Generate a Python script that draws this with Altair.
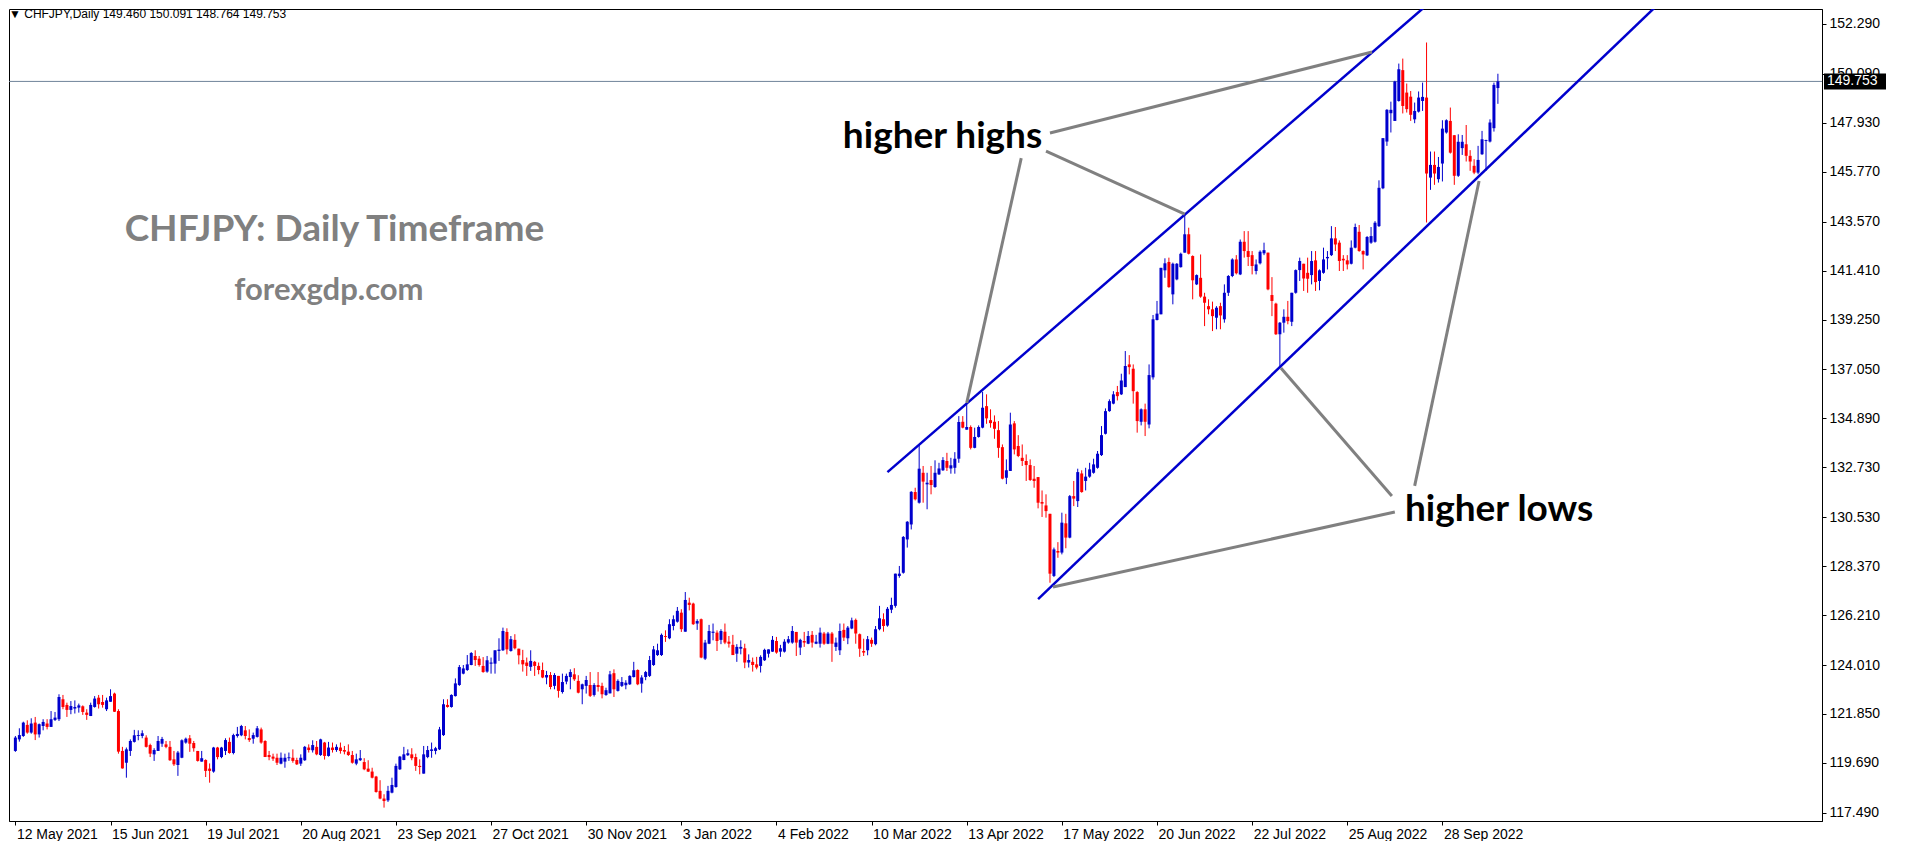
import altair as alt
import pandas as pd

# ---------------- data (daily candles, bar index 0..374) ----------------
OPEN = [
120.22,120.73,120.88,121.37,121.03,121.47,120.95,121.32,121.43,121.28,
121.59,121.62,122.50,122.25,122.03,122.09,122.13,122.19,121.91,121.76,
122.16,122.57,122.38,122.06,122.39,122.75,121.98,120.22,119.70,120.22,
120.62,120.88,120.88,120.81,120.48,120.07,120.22,120.54,120.51,120.40,
119.85,119.60,119.92,120.59,120.78,120.57,120.22,119.75,119.82,119.44,
119.31,120.37,119.95,120.22,120.62,120.13,120.88,120.91,121.13,120.79,
120.76,120.84,121.17,120.66,120.04,119.97,119.92,119.66,119.75,119.90,
119.92,119.82,119.66,119.81,120.37,120.25,120.40,120.04,120.59,120.00,
120.37,120.26,120.37,120.26,120.19,120.04,119.66,119.81,119.73,119.44,
119.31,119.09,118.46,118.12,118.04,118.38,118.63,119.41,119.82,120.03,
120.07,119.95,119.56,119.22,119.95,120.22,120.22,120.29,120.92,122.25,
122.16,122.64,123.13,123.63,123.79,124.01,124.41,124.29,123.97,123.72,
124.07,124.07,124.63,124.66,125.47,124.63,125.12,124.73,124.23,124.12,
123.93,124.15,123.97,123.79,123.46,123.57,123.09,123.53,122.82,123.28,
123.48,123.60,123.31,122.94,123.09,123.13,122.69,123.13,123.09,122.69,
122.76,123.65,122.87,123.09,123.12,123.16,123.48,123.79,123.19,123.48,
123.53,124.01,124.45,124.45,125.29,125.19,125.73,125.92,126.32,125.48,
126.76,126.72,125.84,126.03,124.29,124.95,125.43,125.44,125.12,125.48,
125.04,124.90,124.51,124.73,124.75,124.12,124.15,124.04,123.97,124.22,
124.51,124.60,125.07,124.60,124.60,125.00,125.00,125.47,124.78,125.07,
124.95,125.34,124.95,124.95,125.40,124.95,125.40,124.81,124.66,125.56,
125.19,125.62,126.00,125.37,124.63,124.66,125.12,124.93,125.59,126.03,
125.75,126.45,126.62,127.94,128.08,129.55,130.21,131.64,131.17,132.49,
131.98,132.17,131.86,132.42,132.60,133.01,132.68,132.71,133.11,134.74,
134.39,134.51,133.59,134.07,134.48,135.43,134.81,134.74,134.37,133.62,
132.27,132.57,134.67,133.67,133.15,133.01,132.83,132.23,132.30,131.20,
131.05,130.68,127.94,129.04,128.97,130.26,129.63,131.46,131.24,132.46,
132.13,132.32,132.49,132.71,133.27,134.21,135.21,135.54,136.05,135.95,
136.27,137.27,137.08,136.05,134.74,135.29,134.62,136.70,139.23,139.48,
141.42,141.79,140.36,141.02,141.56,142.20,143.01,142.05,140.80,141.09,
140.26,139.84,139.70,139.33,139.84,139.26,140.43,141.17,141.90,141.24,
142.68,142.27,142.09,141.39,141.73,142.17,142.20,140.33,139.95,138.60,
139.11,139.37,139.15,140.43,141.43,141.71,141.31,141.21,141.86,140.95,
141.31,141.95,142.09,142.83,142.64,141.93,141.86,141.71,142.42,143.12,
142.27,142.08,142.64,142.68,143.37,145.04,147.10,148.35,148.01,148.89,
150.25,149.26,149.08,148.08,148.42,148.89,149.04,145.51,146.07,145.44,
146.13,147.50,148.01,147.38,145.59,146.81,146.98,146.47,146.03,145.73,
146.54,147.13,147.10,147.69,149.460]

HIGH = [
120.88,121.22,121.51,121.57,121.66,121.72,121.43,121.62,121.62,121.98,
121.94,122.72,122.69,122.35,122.42,122.45,122.31,122.23,122.06,122.35,
122.64,122.69,122.69,122.57,122.94,122.79,122.06,120.40,120.37,120.73,
121.15,121.13,121.13,120.91,120.54,120.34,120.88,120.84,120.66,120.66,
120.22,120.22,120.73,120.81,120.92,120.66,120.22,120.22,119.85,119.67,
120.40,120.40,120.40,120.78,120.81,120.98,121.28,121.37,121.32,121.17,
121.03,121.32,121.25,120.69,120.22,120.10,120.10,120.15,120.10,120.15,
120.29,119.92,120.07,120.44,120.51,120.69,120.66,120.76,120.62,120.62,
120.59,120.51,120.59,120.44,120.51,120.22,120.10,120.26,119.90,119.81,
119.48,119.12,118.93,118.31,118.68,119.04,119.66,120.00,120.40,120.29,
120.34,120.10,119.85,120.44,120.44,120.59,120.40,121.28,122.50,122.50,
122.72,123.42,124.01,124.01,124.45,124.58,124.66,124.41,124.36,124.41,
124.34,124.66,125.19,125.66,125.63,125.29,125.37,124.73,124.68,124.34,
124.66,124.19,124.12,124.12,123.75,123.70,123.65,123.53,123.63,123.63,
123.82,123.87,123.56,123.19,123.53,123.70,123.21,123.70,123.23,123.01,
123.75,123.82,123.38,123.48,123.34,123.56,124.15,123.82,123.56,123.75,
124.41,124.85,124.95,125.40,125.54,126.03,126.20,126.57,126.47,127.23,
126.98,126.76,126.03,126.06,125.12,125.78,125.84,125.54,125.59,125.84,
125.29,125.34,124.93,125.10,124.95,124.48,124.34,124.37,124.44,124.73,
124.70,125.29,125.25,124.90,125.15,125.29,125.73,125.47,125.17,125.47,
125.51,125.51,125.34,125.66,125.47,125.47,125.47,125.22,125.84,125.84,
125.73,126.10,126.06,125.40,125.17,125.29,125.22,125.73,126.62,126.29,
126.57,126.98,128.04,128.38,129.70,130.36,131.68,131.83,133.74,132.79,
132.49,132.79,133.04,132.93,133.18,133.37,133.15,133.40,134.99,134.99,
135.58,134.58,134.48,134.58,136.06,135.95,135.29,135.02,134.77,133.74,
133.08,135.14,134.77,134.15,133.74,133.30,133.08,132.79,132.30,131.71,
131.54,130.68,129.19,129.43,130.73,130.68,131.51,132.13,132.67,132.60,
132.71,132.93,133.11,133.45,134.55,135.33,135.73,136.09,136.32,136.86,
137.86,137.68,137.27,136.09,135.33,135.54,137.27,139.45,140.07,141.53,
141.95,141.98,141.76,141.74,142.20,143.89,143.30,142.08,141.24,142.12,
140.43,140.14,140.04,139.84,139.99,140.80,141.21,141.95,142.09,142.78,
143.15,143.15,142.27,141.90,142.30,142.64,142.20,141.12,139.99,139.14,
139.70,140.07,140.43,141.46,141.98,141.71,141.98,142.27,142.27,141.46,
142.42,142.27,143.37,143.33,142.74,142.09,142.09,142.74,143.48,143.42,
142.30,142.93,143.33,143.59,145.39,147.25,148.53,148.86,149.78,150.54,
150.76,149.66,149.33,148.82,149.31,149.70,151.47,146.66,146.66,146.42,
148.04,148.08,148.60,147.38,147.42,147.39,147.83,146.72,146.32,146.91,
147.57,147.18,148.08,149.70,150.091]

LOW = [
120.18,120.63,120.84,120.98,120.98,120.70,120.81,121.13,121.17,121.28,
121.54,121.54,122.06,121.72,121.84,121.87,121.91,121.81,121.59,121.76,
122.13,122.09,122.13,121.98,122.39,121.94,120.10,119.44,119.04,120.00,
120.59,120.69,120.78,120.37,119.95,119.78,120.22,120.40,120.34,119.78,
119.56,119.12,119.90,120.54,120.18,120.19,119.75,119.75,119.07,118.82,
119.26,119.85,119.90,120.04,120.10,120.07,120.81,120.87,120.73,120.62,
120.54,120.81,120.54,119.95,119.81,119.78,119.60,119.63,119.48,119.78,
119.70,119.60,119.56,119.78,120.15,120.15,120.03,120.00,119.84,119.97,
120.15,120.18,120.10,120.07,120.00,119.66,119.59,119.78,119.37,119.29,
119.01,118.38,118.09,117.72,117.97,118.35,118.60,119.38,119.81,120.00,
119.81,119.34,119.19,119.22,119.90,119.92,120.07,120.26,120.88,122.13,
122.13,122.62,123.09,123.60,123.75,124.00,123.97,123.94,123.67,123.67,
123.63,123.63,124.19,124.63,124.48,124.60,124.70,124.04,123.72,123.53,
123.75,123.53,123.60,123.43,123.16,122.94,122.94,122.57,122.75,123.16,
122.94,123.31,122.76,122.28,122.75,122.60,122.62,122.84,122.54,122.65,
122.76,122.60,122.84,123.04,122.94,123.13,123.46,123.12,122.79,123.34,
123.48,123.97,124.41,124.41,125.03,125.15,125.54,125.88,125.47,125.48,
126.42,125.78,125.56,124.31,124.23,124.93,125.10,124.63,124.93,124.93,
124.78,124.45,124.15,124.48,123.87,123.90,123.72,123.82,123.68,124.19,
124.34,124.59,124.51,124.37,124.56,124.95,124.95,124.41,124.45,124.81,
124.93,124.78,124.93,124.78,124.90,124.93,124.15,124.63,124.45,125.07,
124.93,125.59,124.95,124.37,124.41,124.44,124.81,124.88,125.54,125.48,
125.70,126.30,126.54,127.86,128.04,129.19,129.99,131.27,131.13,131.17,
130.88,131.54,131.83,132.39,132.57,132.57,132.45,132.45,132.93,134.45,
134.39,133.52,133.57,134.04,134.45,134.65,134.48,133.99,133.15,132.20,
131.99,132.57,133.30,133.18,132.79,132.13,132.13,131.83,130.92,130.54,
130.51,127.64,127.89,128.74,128.89,129.16,129.60,131.02,130.98,131.61,
131.71,132.27,132.45,132.67,133.23,134.18,135.18,135.51,135.68,135.92,
136.27,136.83,135.54,134.26,134.58,134.11,134.45,136.60,139.21,139.48,
141.09,140.65,139.92,140.98,141.54,142.20,142.12,140.14,140.77,140.21,
138.96,139.48,138.74,138.82,138.82,139.11,140.29,141.12,141.24,141.21,
141.98,141.61,141.24,141.24,141.68,142.09,140.54,139.40,138.57,137.20,
138.67,139.04,138.96,140.39,140.95,140.51,140.43,140.80,140.51,140.54,
141.27,141.46,142.05,142.27,141.39,141.39,141.46,141.68,142.39,142.24,
141.46,142.05,142.59,142.64,143.33,145.00,146.91,147.50,148.01,148.86,
148.34,148.38,148.01,147.91,148.38,148.45,143.53,144.97,145.19,145.29,
145.34,147.45,146.57,145.19,145.54,146.51,146.22,145.81,145.66,145.66,
146.51,145.81,147.06,147.54,148.764]

CLOSE = [
120.81,120.92,121.47,121.03,121.43,120.95,121.40,121.50,121.28,121.62,
121.69,122.60,122.16,122.03,122.20,122.16,122.23,121.94,121.81,122.25,
122.53,122.28,122.25,122.45,122.64,121.95,120.19,119.45,120.29,120.66,
120.91,120.92,121.00,120.40,120.10,120.26,120.66,120.75,120.40,119.81,
119.63,120.15,120.69,120.76,120.54,120.34,119.78,119.90,119.34,119.34,
120.37,119.95,120.37,120.70,120.13,120.92,120.97,121.32,120.88,120.70,
120.92,121.22,120.59,119.95,119.95,119.88,119.70,119.92,119.92,119.94,
119.78,119.63,119.92,120.40,120.26,120.48,120.07,120.73,120.00,120.37,
120.26,120.40,120.22,120.19,120.04,119.70,119.85,119.90,119.41,119.31,
119.04,118.41,118.12,118.01,118.46,118.72,119.56,119.97,120.07,120.12,
119.90,119.56,119.51,120.07,120.26,120.29,120.34,121.17,122.28,122.16,
122.69,123.20,123.92,123.86,124.04,124.54,124.23,124.01,123.70,124.22,
124.12,124.66,124.69,125.51,124.70,125.15,124.75,124.44,124.04,123.97,
124.19,123.97,123.79,123.46,123.57,123.04,123.57,122.87,123.26,123.53,
123.70,123.38,122.79,123.16,123.35,122.65,123.13,123.04,122.72,122.90,
123.60,122.94,123.31,123.26,123.23,123.53,123.78,123.16,123.46,123.70,
124.23,124.70,124.66,125.34,125.25,125.81,126.03,126.40,125.59,126.88,
126.66,125.81,125.95,124.34,125.00,125.51,125.48,125.07,125.51,125.00,
124.95,124.45,124.81,124.81,124.12,124.23,124.01,123.90,124.37,124.68,
124.70,125.12,124.56,124.75,125.04,125.15,125.51,125.00,125.12,125.00,
125.29,125.00,125.04,125.44,124.95,125.40,124.95,125.00,125.51,125.22,
125.66,125.98,125.40,124.73,124.56,125.15,124.95,125.59,126.07,125.73,
126.49,126.66,128.04,128.04,129.66,130.33,131.65,131.32,132.67,132.10,
132.05,131.95,132.49,132.68,133.05,132.71,132.82,133.11,134.73,134.48,
134.51,133.59,134.07,134.51,135.36,134.89,134.68,134.43,133.59,132.23,
132.60,134.62,133.52,133.23,133.01,132.83,132.17,132.13,131.17,131.13,
130.80,128.04,129.11,128.97,130.29,129.63,131.46,131.35,132.52,131.64,
132.32,132.64,132.86,133.33,134.15,135.21,135.65,135.95,135.87,136.56,
137.20,137.15,136.09,134.77,135.29,134.74,136.80,139.26,139.51,141.53,
141.73,140.68,141.71,141.71,142.15,143.01,142.15,140.98,141.21,140.26,
139.99,139.70,139.40,139.77,139.43,140.43,141.17,141.90,141.29,142.68,
142.27,142.01,141.61,141.68,142.24,142.31,140.58,140.07,138.60,139.11,
139.37,139.18,140.43,141.43,141.83,141.06,141.05,141.83,140.90,141.42,
141.90,142.01,142.83,142.56,141.83,141.86,141.68,142.42,143.33,142.27,
142.12,142.89,142.93,143.52,145.06,147.25,148.50,148.50,149.75,150.29,
148.67,148.53,148.28,148.45,149.04,149.07,145.69,146.07,145.69,145.98,
147.67,148.04,146.61,145.59,147.09,147.09,146.47,146.22,145.73,146.29,
147.20,147.17,147.94,149.60,149.753]

# date labels on the time axis (bar index -> label)
TICK_IDX = [0, 24, 48, 72, 96, 120, 144, 168, 192, 216, 240, 264, 288, 312, 336, 360]
TICK_LABELS = ["12 May 2021", "15 Jun 2021", "19 Jul 2021", "20 Aug 2021", "23 Sep 2021",
               "27 Oct 2021", "30 Nov 2021", "3 Jan 2022", "4 Feb 2022", "10 Mar 2022",
               "13 Apr 2022", "17 May 2022", "20 Jun 2022", "22 Jul 2022", "25 Aug 2022",
               "28 Sep 2022"]

# price scale labels
Y_TICKS = [152.29, 150.09, 147.93, 145.77, 143.57, 141.41, 139.25, 137.05, 134.89,
           132.73, 130.53, 128.37, 126.21, 124.01, 121.85, 119.69, 117.49]

# channel lines (bar index, price)
CH_LINE = ["upper", "upper", "lower", "lower"]
CH_IDX = [220.0, 356.65, 258.0, 414.75]
CH_PRICE = [132.52, 153.21, 126.92, 153.21]

# grey pointer lines
PT_X1 = [261.0, 260.0, 253.75, 319.25, 353.0, 348.0]
PT_Y1 = [147.48, 146.68, 146.37, 137.11, 131.91, 130.76]
PT_X2 = [342.25, 295.0, 240.0, 347.25, 369.25, 261.75]
PT_Y2 = [151.05, 143.90, 135.57, 131.47, 145.36, 127.45]

# annotation texts
ANN_TEXT = ["higher highs", "higher lows"]
ANN_IDX = [233.9, 374.3]
ANN_PRICE = [146.82, 130.36]

TITLE_TEXT = ["CHFJPY: Daily Timeframe"]
TITLE_IDX = [80.5]
TITLE_PRICE = [142.71]
SUB_TEXT = ["forexgdp.com"]
SUB_IDX = [79.1]
SUB_PRICE = [140.11]

HEADER = "\u25BC CHFJPY,Daily  149.460 150.091 148.764 149.753"
LAST_PRICE = 149.753

BLUE = "#0000CD"
RED = "#FF0000"
GREY = "#808080"
AXFONT = "Liberation Sans"

df = pd.DataFrame({"idx": list(range(len(CLOSE))), "open": OPEN, "high": HIGH,
                   "low": LOW, "close": CLOSE})

xscale = alt.Scale(domain=[-0.35, 454.5], nice=False, zero=False)
yscale = alt.Scale(domain=[117.13, 152.947], nice=False, zero=False)

label_expr = ("[" + ",".join("'%s'" % s for s in TICK_LABELS) + "][indexof(["
              + ",".join(str(v) for v in TICK_IDX) + "], datum.value)]")

xaxis = alt.Axis(values=TICK_IDX, labelExpr=label_expr, title=None, grid=False,
                 labelAlign="left", labelPadding=2, labelOffset=1, tickSize=4,
                 labelFont=AXFONT, labelFontSize=14, labelColor="black",
                 tickColor="black", domainColor="black", labelOverlap=False,
                 labelFlush=False)
yaxis = alt.Axis(orient="right", values=Y_TICKS, format=".3f", title=None, grid=False,
                 tickSize=4, labelPadding=3, labelFont=AXFONT, labelFontSize=14,
                 labelColor="black", tickColor="black", domainColor="black",
                 labelOverlap=False, labelFlush=False)

candle_color = alt.condition("datum.close >= datum.open", alt.value(BLUE), alt.value(RED))

base = alt.Chart(df)
wick = base.mark_rule(strokeWidth=1).encode(
    x=alt.X("idx:Q", scale=xscale, axis=xaxis),
    y=alt.Y("low:Q", scale=yscale, axis=yaxis),
    y2="high:Q",
    color=candle_color,
)
body = base.mark_bar(size=3).encode(
    x=alt.X("idx:Q", title=None),
    y=alt.Y("open:Q", title=None),
    y2="close:Q",
    color=candle_color,
)

ch_df = pd.DataFrame({"line": CH_LINE, "idx": CH_IDX, "price": CH_PRICE})
channels = alt.Chart(ch_df).mark_line(clip=True, strokeWidth=2.5, color=BLUE).encode(
    x=alt.X("idx:Q", title=None), y=alt.Y("price:Q", title=None), detail="line:N")

pt_df = pd.DataFrame({"x1": PT_X1, "y1": PT_Y1, "x2": PT_X2, "y2": PT_Y2})
pointers = alt.Chart(pt_df).mark_rule(strokeWidth=3, color=GREY).encode(
    x=alt.X("x1:Q", title=None), x2="x2:Q", y=alt.Y("y1:Q", title=None), y2="y2:Q")

ann_df = pd.DataFrame({"t": ANN_TEXT, "idx": ANN_IDX, "price": ANN_PRICE})
ann = alt.Chart(ann_df).mark_text(font="Lato", fontWeight="bold", fontSize=37,
                                  color="black", align="center", baseline="alphabetic").encode(
    x=alt.X("idx:Q", title=None), y=alt.Y("price:Q", title=None), text="t:N")

title_df = pd.DataFrame({"t": TITLE_TEXT, "idx": TITLE_IDX, "price": TITLE_PRICE})
title = alt.Chart(title_df).mark_text(font="Lato", fontWeight="bold", fontSize=37,
                                      color=GREY, align="center", baseline="alphabetic").encode(
    x=alt.X("idx:Q", title=None), y=alt.Y("price:Q", title=None), text="t:N")

sub_df = pd.DataFrame({"t": SUB_TEXT, "idx": SUB_IDX, "price": SUB_PRICE})
sub = alt.Chart(sub_df).mark_text(font="Lato", fontWeight="bold", fontSize=31,
                                  color=GREY, align="center", baseline="alphabetic").encode(
    x=alt.X("idx:Q", title=None), y=alt.Y("price:Q", title=None), text="t:N")

last_df = pd.DataFrame({"price": [LAST_PRICE]})
price_line = alt.Chart(last_df).mark_rule(color="#6f8399", strokeWidth=1).encode(
    y=alt.Y("price:Q", title=None))
tag = alt.Chart(last_df).mark_rule(color="black", strokeWidth=16, strokeCap="butt").encode(
    y=alt.Y("price:Q", title=None), x=alt.value(1815), x2=alt.value(1877))
tag_text = alt.Chart(last_df).mark_text(color="white", align="left", baseline="middle",
                                        font=AXFONT, fontSize=14).encode(
    y=alt.Y("price:Q", title=None), x=alt.value(1818),
    text=alt.Text("price:Q", format=".3f"))

head_df = pd.DataFrame({"t": [HEADER]})
header = alt.Chart(head_df).mark_text(align="left", baseline="middle", font=AXFONT,
                                      fontSize=12, color="black").encode(
    x=alt.value(0), y=alt.value(5), text="t:N")

chart = alt.layer(
    price_line, wick, body, channels, pointers, title, sub, ann, tag, tag_text, header
).properties(
    width=1813, height=812, padding=0, background="white"
).configure_view(stroke="black", strokeWidth=1)

chart.save("out.html", embed_options={"renderer": "svg", "actions": False})
